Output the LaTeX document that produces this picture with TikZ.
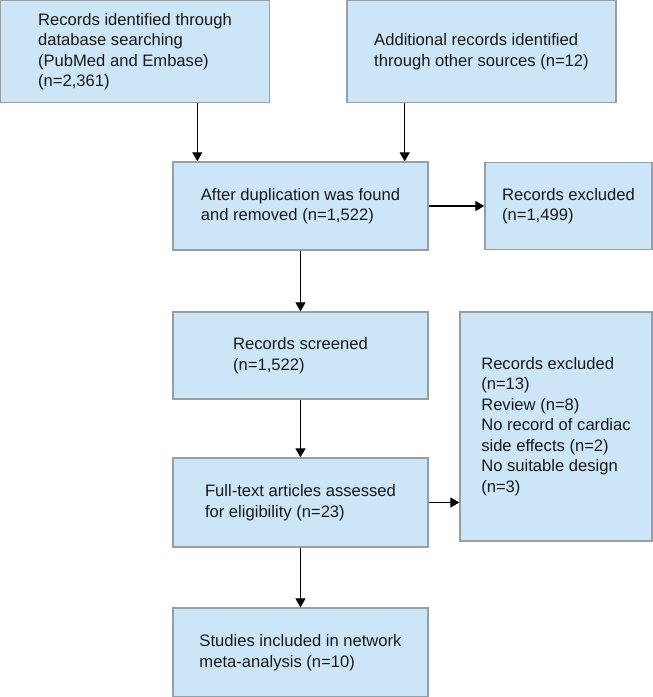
\documentclass[tikz,border=0pt]{standalone}
\usepackage{fontspec}
\setmainfont{Liberation Sans}
\usetikzlibrary{arrows.meta}
\usetikzlibrary{positioning}
\definecolor{boxfill}{RGB}{204,229,247}
\definecolor{boxline}{RGB}{150,158,166}
\tikzstyle{pbox} = [fill=boxfill, draw=boxline, line width=1.4pt, align=left, inner sep=0pt, text=black!90, font=\fontsize{16.6}{20.5}\selectfont]
\tikzstyle{parr} = [-{Triangle[width=10pt,length=9pt]}, line width=1.3pt, black]

\begin{document}
\begin{tikzpicture}[x=1pt, y=-1pt]
  \useasboundingbox (0,0) rectangle (653,697);
  % boxes
  \node[pbox, minimum width=269pt, minimum height=102pt] (ident) at (135,51.5)
    {Records identified through\\database searching\\(PubMed and Embase)\\(n=2,361)};
  \node[pbox, minimum width=269pt, minimum height=102pt] (other) at (481.5,51.5)
    {Additional records identified\\through other sources (n=12)};
  \node[pbox, minimum width=255pt, minimum height=88pt] (dupl) at (300.5,206)
    {After duplication was found\\and removed (n=1,522)};
  \node[pbox, minimum width=167pt, minimum height=87pt] (excla) at (568.5,206)
    {Records excluded\\(n=1,499)};
  \node[pbox, minimum width=255pt, minimum height=87pt] (screen) at (300.5,355.5)
    {Records screened\\(n=1,522)};
  \node[pbox, minimum width=192pt, minimum height=229pt] (exclb) at (556,426.5)
    {Records excluded\\(n=13)\\Review (n=8)\\No record of cardiac\\side effects (n=2)\\No suitable design\\(n=3)};
  \node[pbox, minimum width=255pt, minimum height=89pt] (full) at (300.5,502.5)
    {Full-text articles assessed\\for eligibility (n=23)};
  \node[pbox, minimum width=255pt, minimum height=89pt] (incl) at (300.5,652.5)
    {Studies included in network\\meta-analysis (n=10)};
  % arrows
  \coordinate (inl) at ([xshift=25pt]dupl.north west);
  \coordinate (inr) at ([xshift=-24pt]dupl.north east);
  \draw[parr] (inl |- ident.south) -- (inl);
  \draw[parr] (inr |- other.south) -- (inr);
  \draw[parr] (dupl) -- (excla);
  \draw[parr] (dupl) -- (screen);
  \draw[parr] (screen) -- (full);
  \draw[parr] (full.east) -- (full.east -| exclb.west);
  \draw[parr] (full) -- (incl);
\end{tikzpicture}
\end{document}
